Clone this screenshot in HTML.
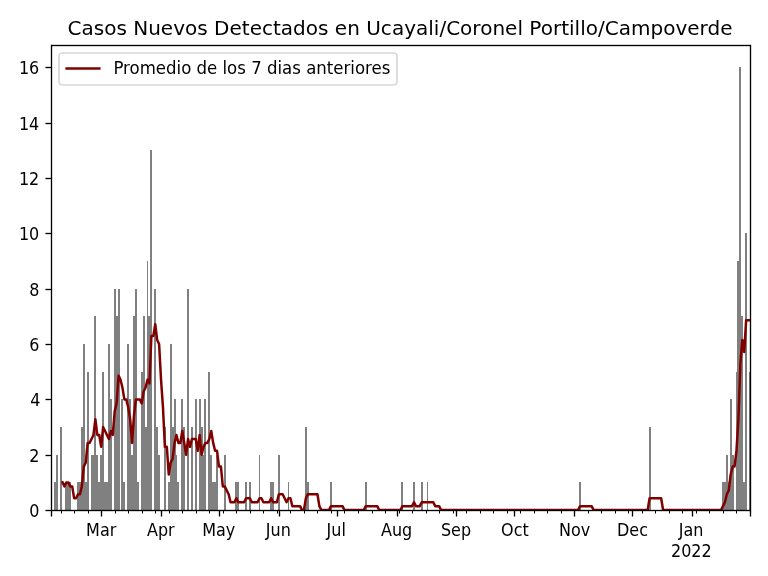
<!DOCTYPE html>
<html lang="es"><head><meta charset="utf-8"><title>Casos Nuevos Detectados en Ucayali/Coronel Portillo/Campoverde</title>
<style>html,body{margin:0;padding:0;background:#fff}svg{display:block}text{font-family:'DejaVu Sans','Liberation Sans',sans-serif;fill:#000}</style></head><body>
<svg width="768" height="576" viewBox="0 0 768 576">
<rect width="768" height="576" fill="#fff"/>
<defs><clipPath id="ax"><rect x="51" y="45" width="699" height="465.1"/></clipPath></defs>
<path d="M51 482h1v28h-1zM54 482h2v28h-2zM56 455h2v55h-2zM60 427h2v83h-2zM65 482h2v28h-2zM67 482h2v28h-2zM69 482h2v28h-2zM77 482h2v28h-2zM79 482h2v28h-2zM81 427h2v83h-2zM83 344h2v166h-2zM85 482h2v28h-2zM87 372h2v138h-2zM91 455h1v55h-1zM92 455h2v55h-2zM94 316h2v194h-2zM96 455h2v55h-2zM98 482h2v28h-2zM100 455h2v55h-2zM102 372h2v138h-2zM104 482h2v28h-2zM106 482h2v28h-2zM108 344h2v166h-2zM110 399h2v111h-2zM114 289h2v221h-2zM116 316h2v194h-2zM118 289h2v221h-2zM121 399h2v111h-2zM123 482h2v28h-2zM127 344h2v166h-2zM129 399h2v111h-2zM131 455h2v55h-2zM133 316h2v194h-2zM135 289h2v221h-2zM137 482h2v28h-2zM141 372h2v138h-2zM143 316h2v194h-2zM145 427h2v83h-2zM147 261h1v249h-1zM148 316h2v194h-2zM150 150h2v360h-2zM154 289h2v221h-2zM156 427h2v83h-2zM158 455h2v55h-2zM164 427h2v83h-2zM168 482h2v28h-2zM170 344h2v166h-2zM172 427h2v83h-2zM174 399h2v111h-2zM176 455h1v55h-1zM177 482h2v28h-2zM181 399h2v111h-2zM183 427h2v83h-2zM187 289h2v221h-2zM191 427h2v83h-2zM195 399h2v111h-2zM199 399h2v111h-2zM201 427h2v83h-2zM203 455h1v55h-1zM204 399h2v111h-2zM208 372h2v138h-2zM210 455h2v55h-2zM212 482h2v28h-2zM214 482h2v28h-2zM216 455h2v55h-2zM224 455h2v55h-2zM235 482h2v28h-2zM237 482h2v28h-2zM245 482h2v28h-2zM249 482h2v28h-2zM259 455h1v55h-1zM270 482h2v28h-2zM272 482h2v28h-2zM278 455h2v55h-2zM288 482h1v28h-1zM305 427h2v83h-2zM307 482h2v28h-2zM330 482h2v28h-2zM365 482h2v28h-2zM401 482h2v28h-2zM413 482h2v28h-2zM421 482h2v28h-2zM427 482h1v28h-1zM579 482h2v28h-2zM649 427h2v83h-2zM722 482h2v28h-2zM724 482h2v28h-2zM726 455h2v55h-2zM728 482h2v28h-2zM730 399h2v111h-2zM732 455h2v55h-2zM736 372h1v138h-1zM737 261h2v249h-2zM739 67h2v443h-2zM741 316h2v194h-2zM743 482h2v28h-2zM745 233h2v277h-2zM749 372h1v138h-1z" fill="#808080" shape-rendering="crispEdges"/>
<polyline clip-path="url(#ax)" points="62.55,482.42 64.48,486.38 66.41,482.42 68.35,482.42 70.28,486.38 72.21,486.38 74.14,498.24 76.07,498.24 78.00,494.28 79.93,494.28 81.86,486.38 83.79,466.61 85.73,462.65 87.66,442.88 89.59,442.88 91.52,438.93 93.45,434.97 95.38,419.16 97.31,434.97 99.24,434.97 101.17,446.83 103.10,427.06 105.04,431.02 106.97,434.97 108.90,438.93 110.83,431.02 112.76,434.97 114.69,411.25 116.62,403.34 118.55,375.66 120.48,379.62 122.41,387.52 124.35,399.39 126.28,399.39 128.21,407.29 130.14,419.16 132.07,442.88 134.00,415.20 135.93,399.39 137.86,399.39 139.79,399.39 141.73,403.34 143.66,391.48 145.59,387.52 147.52,379.62 149.45,383.57 151.38,336.12 153.31,336.12 155.24,324.26 157.17,340.07 159.10,344.03 161.04,379.62 162.97,407.29 164.90,446.83 166.83,446.83 168.76,474.51 170.69,462.65 172.62,458.70 174.55,442.88 176.48,434.97 178.41,442.88 180.35,442.88 182.28,431.02 184.21,442.88 186.14,454.74 188.07,438.93 190.00,446.83 191.93,438.93 193.86,438.93 195.79,438.93 197.73,450.79 199.66,434.97 201.59,454.74 203.52,446.83 205.45,442.88 207.38,442.88 209.31,438.93 211.24,431.02 213.17,442.88 215.10,450.79 217.04,450.79 218.97,466.61 220.90,466.61 222.83,486.38 224.76,486.38 226.69,490.33 228.62,494.28 230.55,502.19 232.48,502.19 234.41,502.19 236.35,498.24 238.28,502.19 240.21,502.19 242.14,502.19 244.07,502.19 246.00,498.24 247.93,498.24 249.86,498.24 251.79,502.19 253.72,502.19 255.66,502.19 257.59,502.19 259.52,498.24 261.45,498.24 263.38,502.19 265.31,502.19 267.24,502.19 269.17,502.19 271.10,498.24 273.04,502.19 274.97,502.19 276.90,502.19 278.83,494.28 280.76,494.28 282.69,494.28 284.62,498.24 286.55,502.19 288.48,498.24 290.41,498.24 292.35,506.15 294.28,506.15 296.21,506.15 298.14,506.15 300.07,506.15 302.00,510.10 303.93,510.10 305.86,498.24 307.79,494.28 309.72,494.28 311.66,494.28 313.59,494.28 315.52,494.28 317.45,494.28 319.38,506.15 321.31,510.10 323.24,510.10 325.17,510.10 327.10,510.10 329.04,510.10 330.97,506.15 332.90,506.15 334.83,506.15 336.76,506.15 338.69,506.15 340.62,506.15 342.55,506.15 344.48,510.10 346.41,510.10 348.35,510.10 350.28,510.10 352.21,510.10 354.14,510.10 356.07,510.10 358.00,510.10 359.93,510.10 361.86,510.10 363.79,510.10 365.72,506.15 367.66,506.15 369.59,506.15 371.52,506.15 373.45,506.15 375.38,506.15 377.31,506.15 379.24,510.10 381.17,510.10 383.10,510.10 385.04,510.10 386.97,510.10 388.90,510.10 390.83,510.10 392.76,510.10 394.69,510.10 396.62,510.10 398.55,510.10 400.48,510.10 402.41,506.15 404.35,506.15 406.28,506.15 408.21,506.15 410.14,506.15 412.07,506.15 414.00,502.19 415.93,506.15 417.86,506.15 419.79,506.15 421.72,502.19 423.66,502.19 425.59,502.19 427.52,502.19 429.45,502.19 431.38,502.19 433.31,502.19 435.24,506.15 437.17,506.15 439.10,506.15 441.03,510.10 442.97,510.10 444.90,510.10 446.83,510.10 448.76,510.10 450.69,510.10 452.62,510.10 454.55,510.10 456.48,510.10 458.41,510.10 460.35,510.10 462.28,510.10 464.21,510.10 466.14,510.10 468.07,510.10 470.00,510.10 471.93,510.10 473.86,510.10 475.79,510.10 477.72,510.10 479.66,510.10 481.59,510.10 483.52,510.10 485.45,510.10 487.38,510.10 489.31,510.10 491.24,510.10 493.17,510.10 495.10,510.10 497.03,510.10 498.97,510.10 500.90,510.10 502.83,510.10 504.76,510.10 506.69,510.10 508.62,510.10 510.55,510.10 512.48,510.10 514.41,510.10 516.35,510.10 518.28,510.10 520.21,510.10 522.14,510.10 524.07,510.10 526.00,510.10 527.93,510.10 529.86,510.10 531.79,510.10 533.72,510.10 535.66,510.10 537.59,510.10 539.52,510.10 541.45,510.10 543.38,510.10 545.31,510.10 547.24,510.10 549.17,510.10 551.10,510.10 553.03,510.10 554.97,510.10 556.90,510.10 558.83,510.10 560.76,510.10 562.69,510.10 564.62,510.10 566.55,510.10 568.48,510.10 570.41,510.10 572.35,510.10 574.28,510.10 576.21,510.10 578.14,510.10 580.07,506.15 582.00,506.15 583.93,506.15 585.86,506.15 587.79,506.15 589.72,506.15 591.66,506.15 593.59,510.10 595.52,510.10 597.45,510.10 599.38,510.10 601.31,510.10 603.24,510.10 605.17,510.10 607.10,510.10 609.03,510.10 610.97,510.10 612.90,510.10 614.83,510.10 616.76,510.10 618.69,510.10 620.62,510.10 622.55,510.10 624.48,510.10 626.41,510.10 628.35,510.10 630.28,510.10 632.21,510.10 634.14,510.10 636.07,510.10 638.00,510.10 639.93,510.10 641.86,510.10 643.79,510.10 645.72,510.10 647.66,510.10 649.59,498.24 651.52,498.24 653.45,498.24 655.38,498.24 657.31,498.24 659.24,498.24 661.17,498.24 663.10,510.10 665.03,510.10 666.97,510.10 668.90,510.10 670.83,510.10 672.76,510.10 674.69,510.10 676.62,510.10 678.55,510.10 680.48,510.10 682.41,510.10 684.34,510.10 686.28,510.10 688.21,510.10 690.14,510.10 692.07,510.10 694.00,510.10 695.93,510.10 697.86,510.10 699.79,510.10 701.72,510.10 703.66,510.10 705.59,510.10 707.52,510.10 709.45,510.10 711.38,510.10 713.31,510.10 715.24,510.10 717.17,510.10 719.10,510.10 721.03,510.10 722.97,506.15 724.90,502.19 726.83,494.28 728.76,490.33 730.69,474.51 732.62,466.61 734.55,466.61 736.48,450.79 738.41,419.16 740.34,363.80 742.28,340.07 744.21,351.94 746.14,320.30 748.07,320.30 750.00,320.30" fill="none" stroke="#800000" stroke-width="2.5" stroke-linejoin="round" stroke-linecap="square"/>
<path d="M51.5 510.5V516.5M101.5 510.5V516.5M161.5 510.5V516.5M219.5 510.5V516.5M279.5 510.5V516.5M337.5 510.5V516.5M397.5 510.5V516.5M456.5 510.5V516.5M514.5 510.5V516.5M574.5 510.5V516.5M632.5 510.5V516.5M692.5 510.5V516.5M750.5 510.5V516.5" stroke="#000" stroke-width="1.3333" fill="none"/>
<path d="M61.5 510.5V513.5M74.5 510.5V513.5M88.5 510.5V513.5M115.5 510.5V513.5M128.5 510.5V513.5M142.5 510.5V513.5M155.5 510.5V513.5M169.5 510.5V513.5M182.5 510.5V513.5M196.5 510.5V513.5M209.5 510.5V513.5M223.5 510.5V513.5M236.5 510.5V513.5M250.5 510.5V513.5M263.5 510.5V513.5M277.5 510.5V513.5M290.5 510.5V513.5M304.5 510.5V513.5M317.5 510.5V513.5M331.5 510.5V513.5M344.5 510.5V513.5M358.5 510.5V513.5M372.5 510.5V513.5M385.5 510.5V513.5M399.5 510.5V513.5M412.5 510.5V513.5M426.5 510.5V513.5M439.5 510.5V513.5M453.5 510.5V513.5M466.5 510.5V513.5M480.5 510.5V513.5M493.5 510.5V513.5M507.5 510.5V513.5M520.5 510.5V513.5M534.5 510.5V513.5M547.5 510.5V513.5M561.5 510.5V513.5M588.5 510.5V513.5M601.5 510.5V513.5M615.5 510.5V513.5M628.5 510.5V513.5M642.5 510.5V513.5M655.5 510.5V513.5M669.5 510.5V513.5M682.5 510.5V513.5M696.5 510.5V513.5M709.5 510.5V513.5M723.5 510.5V513.5M736.5 510.5V513.5" stroke="#000" stroke-width="1" fill="none"/>
<path d="M45.5 67h6v1h-6zM45.5 123h6v1h-6zM45.5 178h6v1h-6zM45.5 233h6v1h-6zM45.5 289h6v1h-6zM45.5 344h6v1h-6zM45.5 399h6v1h-6zM45.5 455h6v1h-6zM45.5 510h6v1h-6z" fill="#000"/>
<path d="M45.5 66h5v1h-5zM45.5 68h5v1h-5zM45.5 122h5v1h-5zM45.5 124h5v1h-5zM45.5 177h5v1h-5zM45.5 179h5v1h-5zM45.5 232h5v1h-5zM45.5 234h5v1h-5zM45.5 288h5v1h-5zM45.5 290h5v1h-5zM45.5 343h5v1h-5zM45.5 345h5v1h-5zM45.5 398h5v1h-5zM45.5 400h5v1h-5zM45.5 454h5v1h-5zM45.5 456h5v1h-5zM45.5 509h5v1h-5zM45.5 511h5v1h-5z" fill="#000" fill-opacity="0.169"/>
<path d="M51.5 510.5V45.5M750.5 510.5V45.5" stroke="#000" stroke-width="1.3333" stroke-linecap="square" fill="none"/>
<path d="M51 45h700v1h-700zM51 510h700v1h-700z" fill="#000"/>
<path d="M52 44h698v1h-698zM52 46h698v1h-698zM52 509h698v1h-698zM52 511h698v1h-698z" fill="#000" fill-opacity="0.169"/>
<text transform="translate(101.17 535.50) scale(0.9600 1.0700)" font-size="16.667px" text-anchor="middle">Mar</text>
<text transform="translate(160.79 535.50) scale(0.9600 1.0700)" font-size="16.667px" text-anchor="middle">Apr</text>
<text transform="translate(218.72 535.50) scale(0.9600 1.0700)" font-size="16.667px" text-anchor="middle">May</text>
<text transform="translate(278.33 535.50) scale(0.9600 1.0700)" font-size="16.667px" text-anchor="middle">Jun</text>
<text transform="translate(336.26 535.50) scale(0.9600 1.0700)" font-size="16.667px" text-anchor="middle">Jul</text>
<text transform="translate(396.62 535.50) scale(0.9600 1.0700)" font-size="16.667px" text-anchor="middle">Aug</text>
<text transform="translate(455.98 535.50) scale(0.9600 1.0700)" font-size="16.667px" text-anchor="middle">Sep</text>
<text transform="translate(514.91 535.50) scale(0.9600 1.0700)" font-size="16.667px" text-anchor="middle">Oct</text>
<text transform="translate(574.53 535.50) scale(0.9600 1.0700)" font-size="16.667px" text-anchor="middle">Nov</text>
<text transform="translate(632.46 535.50) scale(0.9600 1.0700)" font-size="16.667px" text-anchor="middle">Dec</text>
<text transform="translate(691.07 535.50) scale(0.9600 1.0700)" font-size="16.667px" text-anchor="middle">Jan</text>
<text transform="translate(691.32 556.50) scale(0.9600 1.0700)" font-size="16.667px" text-anchor="middle">2022</text>
<text transform="translate(39.55 516.50) scale(0.9600 1.0700)" font-size="16.667px" text-anchor="end">0</text>
<text transform="translate(39.55 461.50) scale(0.9600 1.0700)" font-size="16.667px" text-anchor="end">2</text>
<text transform="translate(40.55 405.50) scale(0.9600 1.0700)" font-size="16.667px" text-anchor="end">4</text>
<text transform="translate(39.55 350.50) scale(0.9600 1.0700)" font-size="16.667px" text-anchor="end">6</text>
<text transform="translate(39.55 295.50) scale(0.9600 1.0700)" font-size="16.667px" text-anchor="end">8</text>
<text transform="translate(39.30 239.50) scale(0.9600 1.0700)" font-size="16.667px" text-anchor="end">10</text>
<text transform="translate(39.30 184.50) scale(0.9600 1.0700)" font-size="16.667px" text-anchor="end">12</text>
<text transform="translate(39.30 129.50) scale(0.9600 1.0700)" font-size="16.667px" text-anchor="end">14</text>
<text transform="translate(39.30 73.50) scale(0.9600 1.0700)" font-size="16.667px" text-anchor="end">16</text>
<text transform="translate(399.98 34.60) scale(1.0010 1.0100)" font-size="20.000px" text-anchor="middle">Casos Nuevos Detectados en Ucayali/Coronel Portillo/Campoverde</text>
<rect x="59" y="53" width="338" height="32" rx="3.33" ry="3.33" fill="#fff" fill-opacity="0.8" stroke="#ccc" stroke-opacity="0.8" stroke-width="1.6667"/>
<path d="M66.68 68.5H99.32" stroke="#800000" stroke-width="2.5" stroke-linecap="square" fill="none"/>
<text transform="translate(113.38 73.60) scale(0.9950 1.0200)" font-size="16.667px" text-anchor="start">Promedio de los 7 dias anteriores</text>
</svg></body></html>
